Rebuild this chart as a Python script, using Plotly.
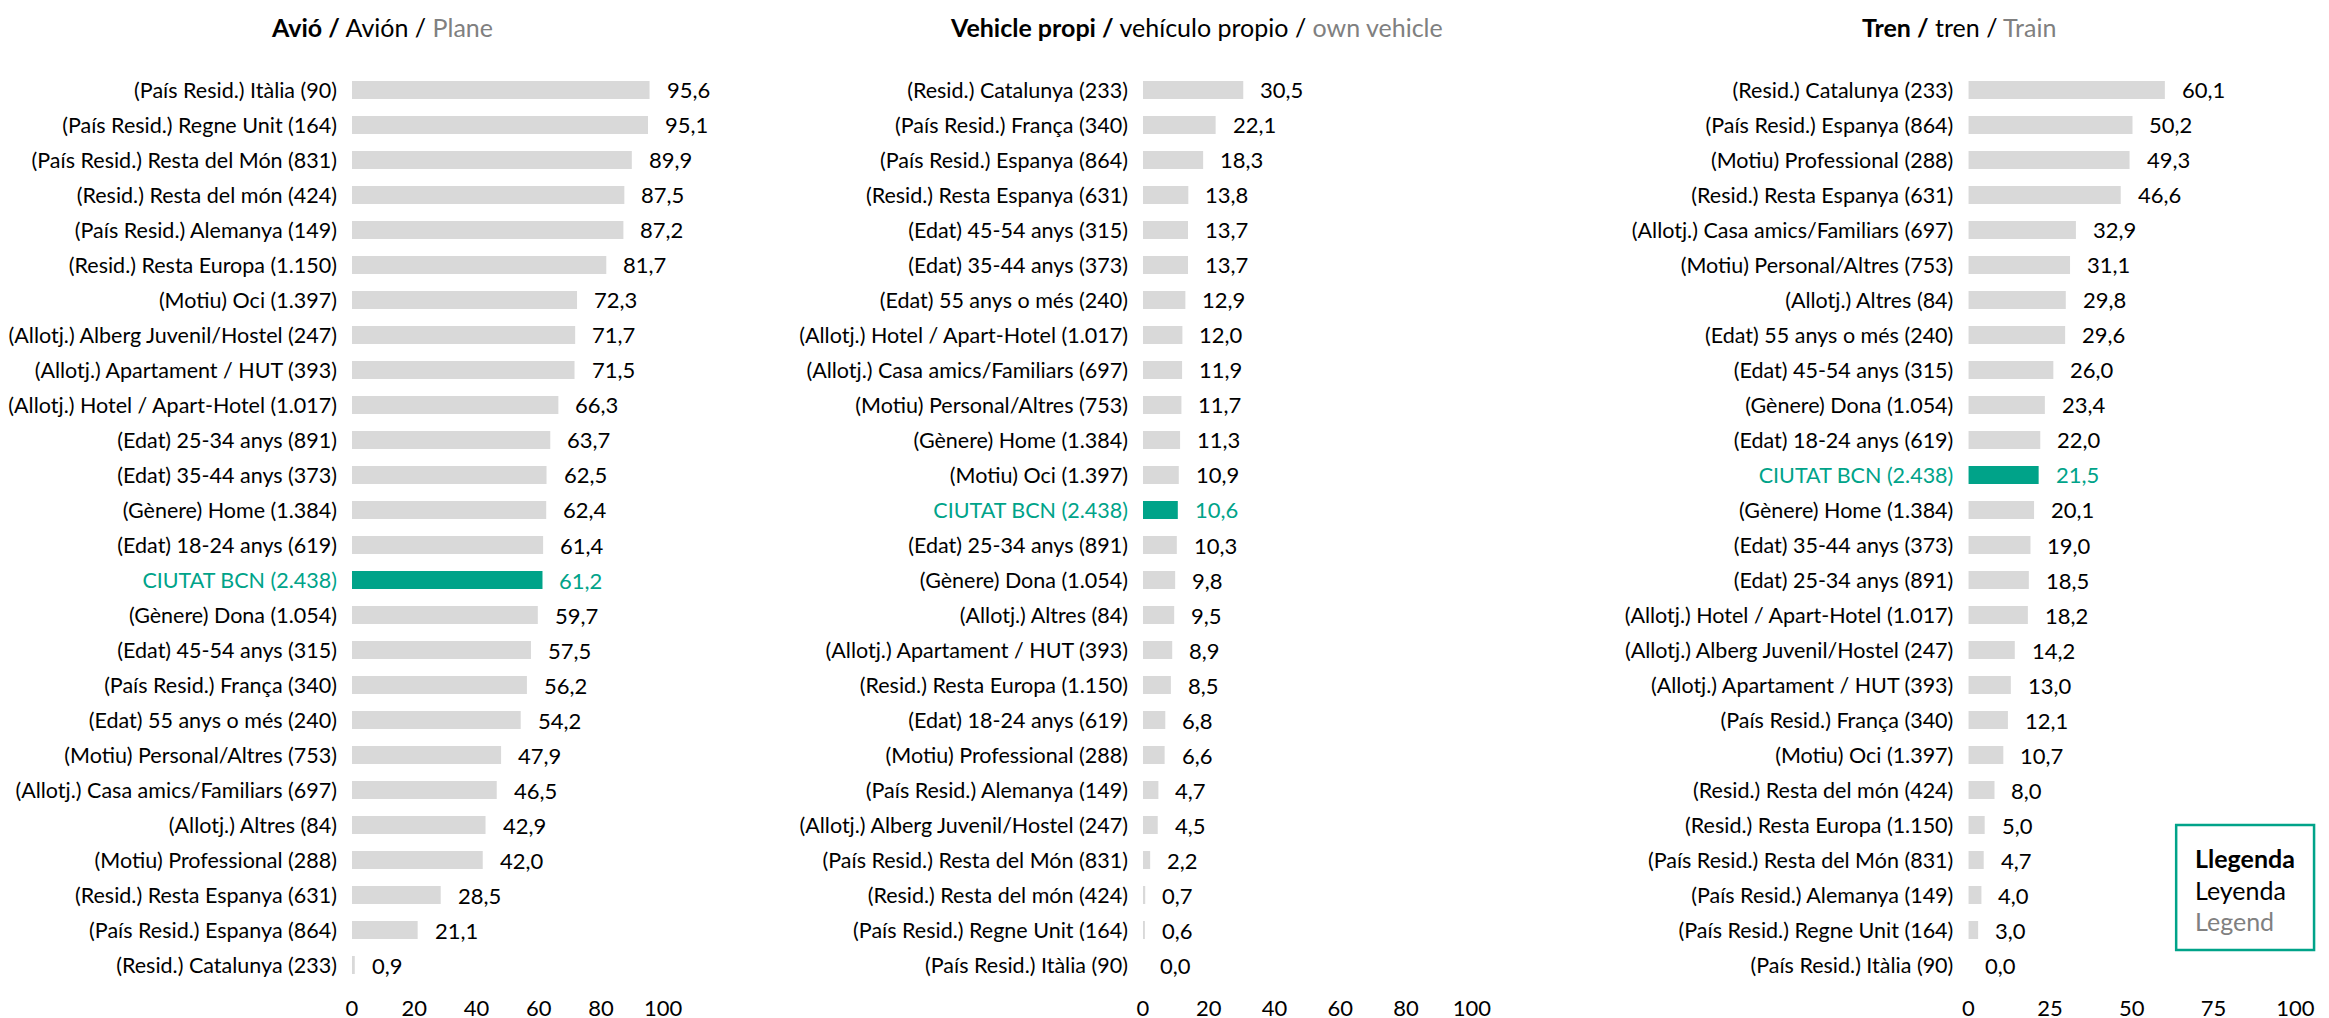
import plotly.graph_objects as go

W, H = 2329, 1018
FONT = "Lato"
GRAY_BAR = "#d9d9d9"
TEAL = "#00a389"
GRAY_TXT = "#808080"
CITY = "CIUTAT BCN (2.438)"

# ---- data (top to bottom) ----
plane_labels = [
    "(País Resid.) Itàlia (90)", "(País Resid.) Regne Unit (164)", "(País Resid.) Resta del Món (831)",
    "(Resid.) Resta del món (424)", "(País Resid.) Alemanya (149)", "(Resid.) Resta Europa (1.150)",
    "(Motiu) Oci (1.397)", "(Allotj.) Alberg Juvenil/Hostel (247)", "(Allotj.) Apartament / HUT (393)",
    "(Allotj.) Hotel / Apart-Hotel (1.017)", "(Edat) 25-34 anys (891)", "(Edat) 35-44 anys (373)",
    "(Gènere) Home (1.384)", "(Edat) 18-24 anys (619)", CITY, "(Gènere) Dona (1.054)",
    "(Edat) 45-54 anys (315)", "(País Resid.) França (340)", "(Edat) 55 anys o més (240)",
    "(Motiu) Personal/Altres (753)", "(Allotj.) Casa amics/Familiars (697)", "(Allotj.) Altres (84)",
    "(Motiu) Professional (288)", "(Resid.) Resta Espanya (631)", "(País Resid.) Espanya (864)",
    "(Resid.) Catalunya (233)",
]
plane_values = [95.6, 95.1, 89.9, 87.5, 87.2, 81.7, 72.3, 71.7, 71.5, 66.3, 63.7, 62.5, 62.4,
                61.4, 61.2, 59.7, 57.5, 56.2, 54.2, 47.9, 46.5, 42.9, 42.0, 28.5, 21.1, 0.9]

car_labels = [
    "(Resid.) Catalunya (233)", "(País Resid.) França (340)", "(País Resid.) Espanya (864)",
    "(Resid.) Resta Espanya (631)", "(Edat) 45-54 anys (315)", "(Edat) 35-44 anys (373)",
    "(Edat) 55 anys o més (240)", "(Allotj.) Hotel / Apart-Hotel (1.017)",
    "(Allotj.) Casa amics/Familiars (697)", "(Motiu) Personal/Altres (753)", "(Gènere) Home (1.384)",
    "(Motiu) Oci (1.397)", CITY, "(Edat) 25-34 anys (891)", "(Gènere) Dona (1.054)",
    "(Allotj.) Altres (84)", "(Allotj.) Apartament / HUT (393)", "(Resid.) Resta Europa (1.150)",
    "(Edat) 18-24 anys (619)", "(Motiu) Professional (288)", "(País Resid.) Alemanya (149)",
    "(Allotj.) Alberg Juvenil/Hostel (247)", "(País Resid.) Resta del Món (831)",
    "(Resid.) Resta del món (424)", "(País Resid.) Regne Unit (164)", "(País Resid.) Itàlia (90)",
]
car_values = [30.5, 22.1, 18.3, 13.8, 13.7, 13.7, 12.9, 12.0, 11.9, 11.7, 11.3, 10.9, 10.6,
              10.3, 9.8, 9.5, 8.9, 8.5, 6.8, 6.6, 4.7, 4.5, 2.2, 0.7, 0.6, 0.0]

train_labels = [
    "(Resid.) Catalunya (233)", "(País Resid.) Espanya (864)", "(Motiu) Professional (288)",
    "(Resid.) Resta Espanya (631)", "(Allotj.) Casa amics/Familiars (697)",
    "(Motiu) Personal/Altres (753)", "(Allotj.) Altres (84)", "(Edat) 55 anys o més (240)",
    "(Edat) 45-54 anys (315)", "(Gènere) Dona (1.054)", "(Edat) 18-24 anys (619)", CITY,
    "(Gènere) Home (1.384)", "(Edat) 35-44 anys (373)", "(Edat) 25-34 anys (891)",
    "(Allotj.) Hotel / Apart-Hotel (1.017)", "(Allotj.) Alberg Juvenil/Hostel (247)",
    "(Allotj.) Apartament / HUT (393)", "(País Resid.) França (340)", "(Motiu) Oci (1.397)",
    "(Resid.) Resta del món (424)", "(Resid.) Resta Europa (1.150)",
    "(País Resid.) Resta del Món (831)", "(País Resid.) Alemanya (149)",
    "(País Resid.) Regne Unit (164)", "(País Resid.) Itàlia (90)",
]
train_values = [60.1, 50.2, 49.3, 46.6, 32.9, 31.1, 29.8, 29.6, 26.0, 23.4, 22.0, 21.5, 20.1,
                19.0, 18.5, 18.2, 14.2, 13.0, 12.1, 10.7, 8.0, 5.0, 4.7, 4.0, 3.0, 0.0]

titles = [
    ("Avió /", "Avión /", "Plane"),
    ("Vehicle propi /", "vehículo propio /", "own vehicle"),
    ("Tren /", "tren /", "Train"),
]
x_ticks = [[0, 20, 40, 60, 80, 100], [0, 20, 40, 60, 80, 100], [0, 25, 50, 75, 100]]
legend_lines = ["Llegenda", "Leyenda", "Legend"]

# ---- layout geometry (pixels) ----
x_px = [(333, 649), (1136, 1470), (1974, 2306)]
title_cx = [363, 1190, 1965]
row_top, row_bot = 82, 957
n_rows = 26
step = (row_bot - row_top) / (n_rows - 1)
y_top_px = row_top - step / 2
y_bot_px = row_bot + step / 2
ydom = [(H - y_bot_px) / H, (H - y_top_px) / H]
LBL_SIZE = 21.5
VAL_SIZE = 22


def fmt(v):
    return f"{v:.1f}".replace(".", ",")


def disp(lbl):
    if lbl == CITY:
        return f'<span style="color:{TEAL}">{lbl}</span>'
    return lbl


panels = [(plane_labels, plane_values), (car_labels, car_values), (train_labels, train_values)]

fig = go.Figure()
annotations = []
for i, (labels, values) in enumerate(panels):
    xa = "x" if i == 0 else f"x{i+1}"
    ya = "y" if i == 0 else f"y{i+1}"
    ylabels = [disp(l) for l in labels]
    colors = [TEAL if l == CITY else GRAY_BAR for l in labels]
    fig.add_trace(go.Bar(
        x=values, y=ylabels, orientation="h", marker=dict(color=colors, line=dict(width=0)),
        width=0.51, xaxis=xa, yaxis=ya, hoverinfo="skip", showlegend=False,
    ))
    for l, v in zip(ylabels, values):
        annotations.append(dict(
            x=v, y=l, xref=xa, yref=ya, text=fmt(v), showarrow=False,
            xanchor="left", yanchor="middle", xshift=15,
            font=dict(family=FONT, size=VAL_SIZE, color=TEAL if l.startswith("<span") else "#000000"),
        ))
    x0, x1 = x_px[i]
    axis_x = dict(
        domain=[x0 / W, x1 / W], range=[0, 100], tickvals=x_ticks[i],
        showgrid=False, zeroline=False, showline=False, ticks="",
        tickfont=dict(family=FONT, size=VAL_SIZE, color="#000000"), ticklabelstandoff=10,
        anchor=ya, fixedrange=True,
    )
    axis_y = dict(
        domain=ydom, type="category", categoryorder="array", categoryarray=ylabels,
        range=[n_rows - 0.5, -0.5], showgrid=False, zeroline=False, showline=False, ticks="",
        tickfont=dict(family=FONT, size=LBL_SIZE, color="#000000"), ticklabelstandoff=14,
        anchor=xa, fixedrange=True,
    )
    fig.layout["xaxis" if i == 0 else f"xaxis{i+1}"] = axis_x
    fig.layout["yaxis" if i == 0 else f"yaxis{i+1}"] = axis_y

    b, r, g = titles[i]
    annotations.append(dict(
        x=title_cx[i] / W, y=(H - 19) / H, xref="paper", yref="paper",
        text=f'<b>{b}</b> {r} <span style="color:{GRAY_TXT}">{g}</span>',
        showarrow=False, xanchor="center", yanchor="middle",
        font=dict(family=FONT, size=25, color="#000000"),
    ))

# legend box
bx0, bx1, by0, by1 = 2185, 2325, 817, 942
fig.add_shape(type="rect", xref="paper", yref="paper",
              x0=bx0 / W, x1=bx1 / W, y0=(H - by1) / H, y1=(H - by0) / H,
              line=dict(color=TEAL, width=2.5), fillcolor="rgba(0,0,0,0)")
leg_y = [850, 882, 913]
leg_txt = [f"<b>{legend_lines[0]}</b>", legend_lines[1],
           f'<span style="color:{GRAY_TXT}">{legend_lines[2]}</span>']
for t, yy in zip(leg_txt, leg_y):
    annotations.append(dict(
        x=2202 / W, y=(H - yy) / H, xref="paper", yref="paper", text=t, showarrow=False,
        xanchor="left", yanchor="middle", font=dict(family=FONT, size=25, color="#000000"),
    ))

fig.update_layout(
    width=W, height=H, margin=dict(l=0, r=0, t=0, b=0),
    paper_bgcolor="white", plot_bgcolor="white", bargap=0.49,
    annotations=annotations, font=dict(family=FONT, size=LBL_SIZE, color="#000000"),
    hovermode=False,
)

fig.write_html("out.html", config={"displayModeBar": False, "staticPlot": True})
